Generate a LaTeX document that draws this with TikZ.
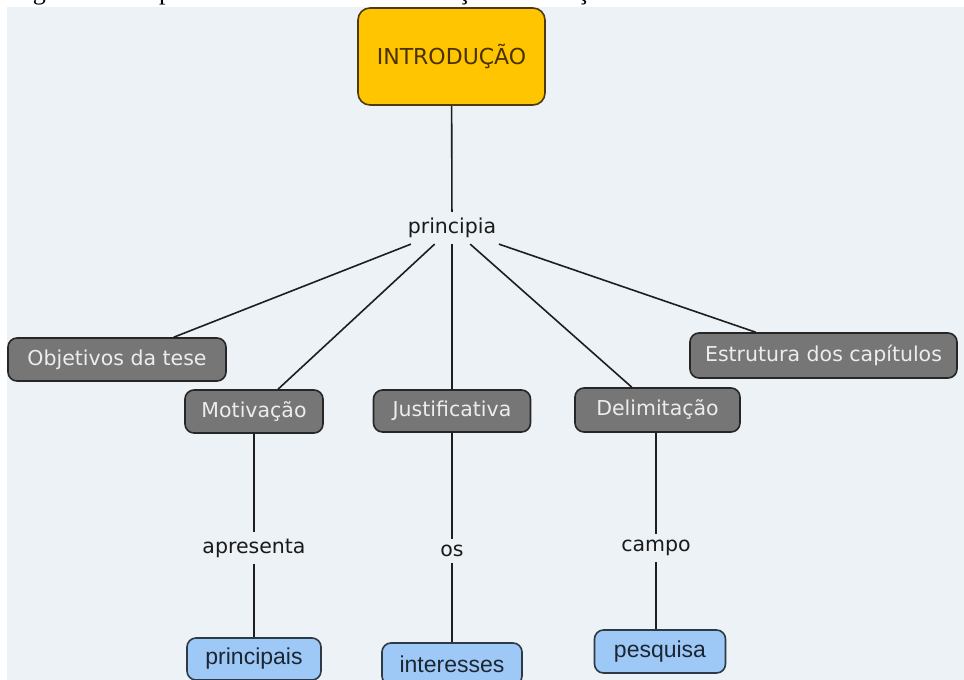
\documentclass[tikz,border=0pt]{standalone}
\usepackage{fontspec}
\setmainfont{DejaVu Sans}
\newfontfamily\leaffont{Liberation Sans}
\newfontfamily\captionfont{Liberation Serif}

\definecolor{canvas}{HTML}{ECF2F5}
\definecolor{rootyellow}{HTML}{FFC500}
\definecolor{rootedge}{HTML}{4E3A10}
\definecolor{roottext}{HTML}{4A3200}
\definecolor{topicgray}{HTML}{767676}
\definecolor{topicedge}{HTML}{262626}
\definecolor{topictext}{HTML}{EDEDED}
\definecolor{leafblue}{HTML}{9EC8F6}
\definecolor{leafedge}{HTML}{2E3946}
\definecolor{leaftext}{HTML}{1C2633}
\definecolor{linkcolor}{HTML}{1E1E1E}
\definecolor{linktext}{HTML}{1A1A1A}

\begin{document}
\begin{tikzpicture}[x=1pt,y=-1pt,
  concept/.style={rectangle, rounded corners=9pt, line width=1.6pt, inner sep=0pt,
    font=\fontsize{20.5}{24}\selectfont},
  topic/.style={concept, fill=topicgray, draw=topicedge, text=topictext},
  root/.style={concept, fill=rootyellow, draw=rootedge, text=roottext,
    rounded corners=12pt, font=\fontsize{22}{26}\selectfont},
  leaf/.style={concept, fill=leafblue, draw=leafedge, text=leaftext,
    font=\leaffont\fontsize{23}{27}\selectfont},
  linkphrase/.style={inner xsep=7pt, inner ysep=6pt, text=linktext,
    font=\fontsize{20.5}{24}\selectfont},
  link/.style={draw=linkcolor, line width=1.6pt}
]
\useasboundingbox (0,0) rectangle (964,680);
\fill[white] (0,0) rectangle (964,680);
\fill[canvas] (6.5,6.5) rectangle (964,680);

% caption line above the map, cut by the top edge
\begin{scope}
  \clip (0,0) rectangle (964,6.5);
  \node[anchor=base west, inner sep=0pt, font=\captionfont\fontsize{26}{30}\selectfont]
    (caption) at (11,-1) {Figura 4 – Mapa conceitual estrutura da Seção Introdução};
\end{scope}

% concepts
\node[root, minimum width=187pt, minimum height=97pt] (intro) at (451.5,56.5) {INTRODUÇÃO};

\node[topic, minimum width=218pt, minimum height=43pt] (obj)   at (117,359.5)   {Objetivos da tese};
\node[topic, minimum width=267pt, minimum height=45pt] (estr)  at (823.5,355.5) {Estrutura dos capítulos};
\node[topic, minimum width=138pt, minimum height=43pt] (mot)   at (254,411.5)   {Motivação};
\node[topic, minimum width=157pt, minimum height=42pt] (just)  at (452,411)     {Justificativa};
\node[topic, minimum width=165pt, minimum height=44pt] (delim) at (657.5,410)   {Delimitação};

\node[leaf, minimum width=134pt, minimum height=42pt] (princ) at (254,659)   {principais};
\node[leaf, minimum width=140pt, minimum height=42pt] (inter) at (452,664)   {interesses};
\node[leaf, minimum width=131pt, minimum height=43pt] (pesq)  at (660,651.5) {pesquisa};

% linking phrases
\node[linkphrase] (principia) at (452,228)   {principia};
\node[linkphrase] (apres)     at (254,548)   {apresenta};
\node[linkphrase] (os)        at (452,551)   {os};
\node[linkphrase] (campo)     at (656,548)   {campo};

% connectors
\draw[link] (intro) -- (principia);
\draw[link] (principia) -- (obj);
\draw[link] (principia) -- (mot);
\draw[link] (principia) -- (just);
\draw[link] (principia) -- (delim);
\draw[link] (principia) -- (estr);

\draw[link] (mot) -- (apres);
\draw[link] (apres) -- (princ);
\draw[link] (just) -- (os);
\draw[link] (os) -- (inter);
\draw[link] (delim.south -| campo) -- (campo);
\draw[link] (campo) -- (pesq.north -| campo);
\end{tikzpicture}
\end{document}
